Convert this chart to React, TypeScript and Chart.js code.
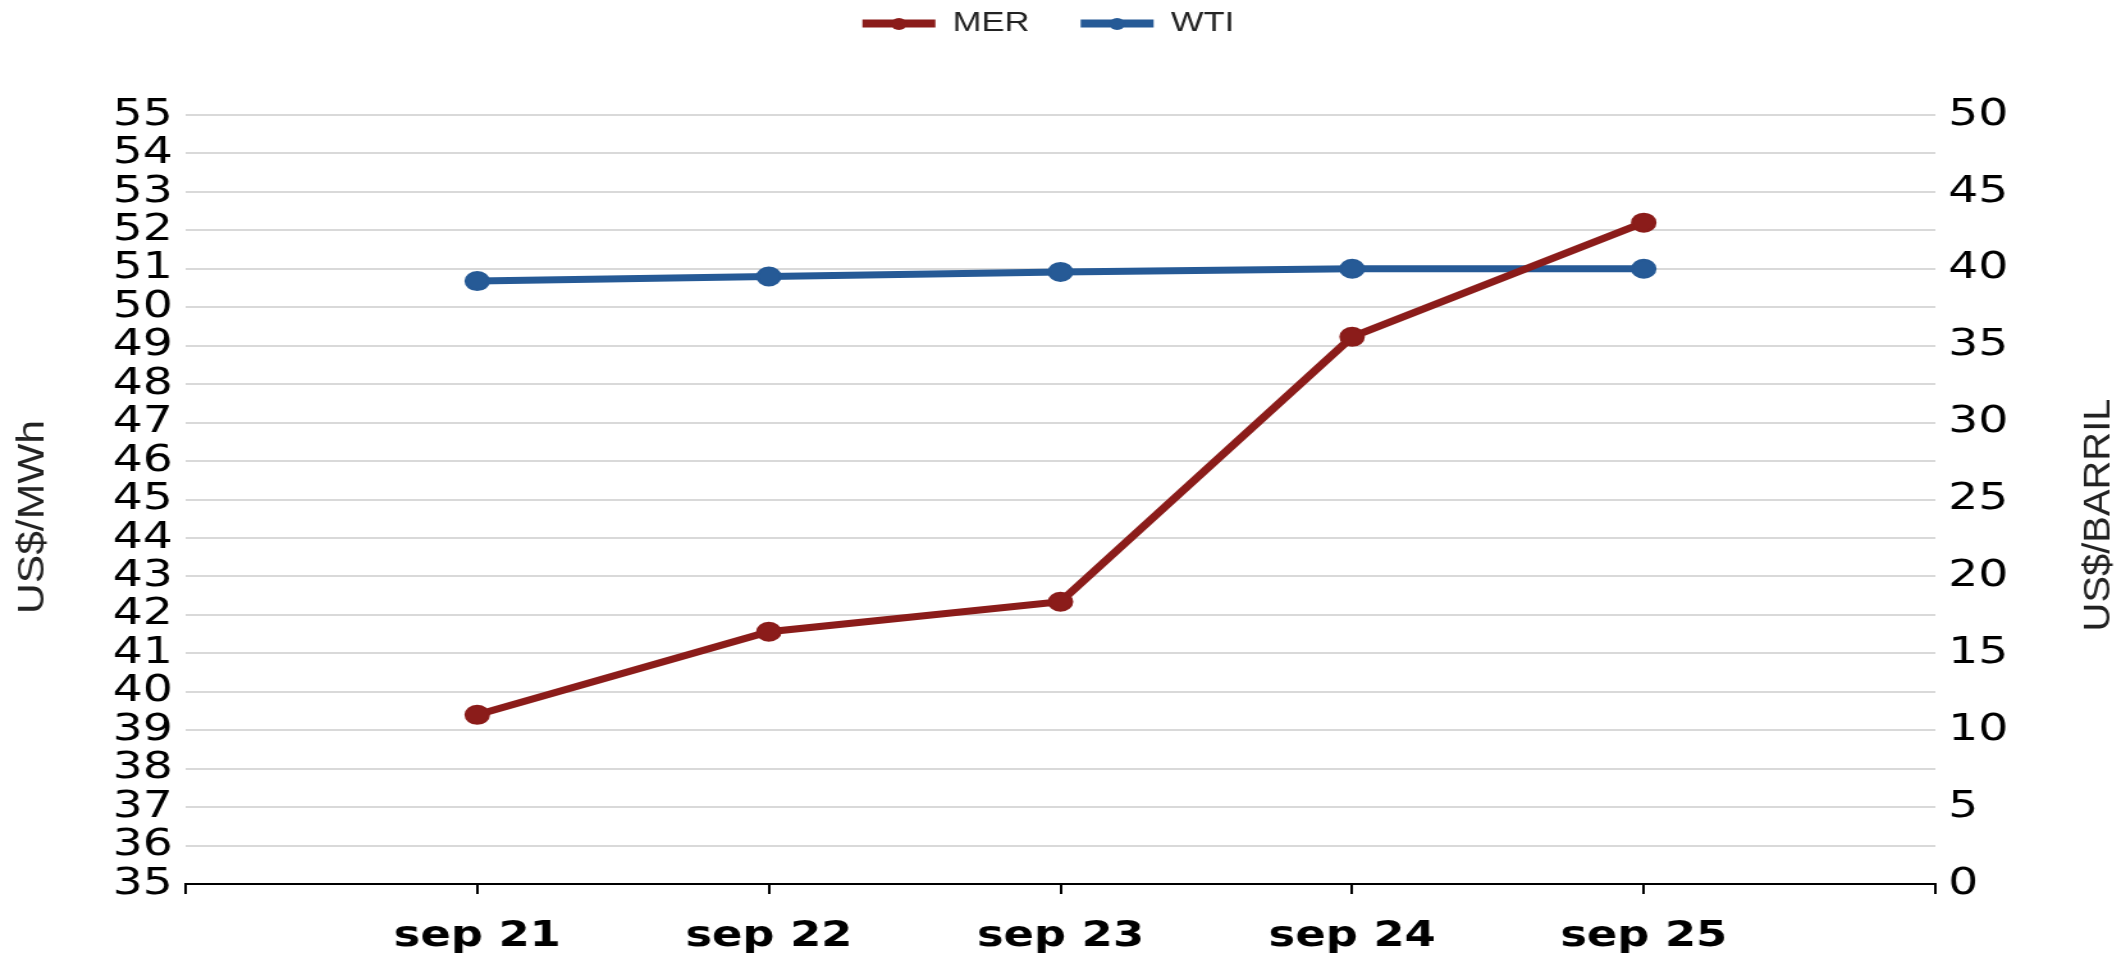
import React, { useEffect, useRef } from "react";
import { Chart, registerables } from "chart.js";

Chart.register(...registerables);

// ---- data ----
const categories = ["sep 21", "sep 22", "sep 23", "sep 24", "sep 25"];
const merValues = [39.4, 41.56, 42.34, 49.23, 52.2];
const wtiValues = [39.2, 39.5, 39.8, 40.0, 40.0];
const seriesNames = ["MER", "WTI"];
const leftTitle = "US$/MWh";
const rightTitle = "US$/BARRIL";
const leftMin = 35;
const leftMax = 55;
const leftStep = 1;
const rightMin = 0;
const rightMax = 50;
const rightStep = 5;

// ---- layout / style ----
const STRETCH = 1.28;
const CANVAS_W = 1662;
const CANVAS_H = 991;
const SHIFT_Y = 30;
const RED = "#8B1C1A";
const BLUE = "#265A96";
const LEGEND_BOX_W = 57;

const legendTweaks = {
  id: "legendTweaks",
  beforeInit(chart: any) {
    const legend = chart.legend;
    const origFit = legend.fit;
    legend.fit = function () {
      origFit.call(this);
      this.height += 68;
    };
    const origDraw = legend.draw;
    legend.draw = function () {
      const ctx = this.ctx;
      ctx.save();
      ctx.translate(-12, 0);
      origDraw.call(this);
      const items = this.legendItems || [];
      const boxes = this.legendHitBoxes || [];
      items.forEach((item: any, i: number) => {
        const hb = boxes[i];
        if (!hb) return;
        ctx.beginPath();
        ctx.fillStyle = item.fillStyle;
        ctx.arc(hb.left + LEGEND_BOX_W / 2, hb.top + hb.height / 2 + 0.5, 6, 0, Math.PI * 2);
        ctx.fill();
      });
      ctx.restore();
    };
  },
};

const axisTitles = {
  id: "axisTitles",
  afterDraw(chart: any) {
    const ctx = chart.ctx;
    const drawOne = (text: string, x: number, y: number, sx: number) => {
      ctx.save();
      ctx.translate(x, y);
      ctx.rotate(-Math.PI / 2);
      ctx.scale(sx, 1);
      ctx.fillStyle = "#222";
      ctx.font = '30px "Liberation Sans", Arial, sans-serif';
      ctx.textAlign = "center";
      ctx.textBaseline = "middle";
      ctx.fillText(text, 0, 0);
      ctx.restore();
    };
    drawOne(leftTitle, 26, 547, 1.42);
    drawOne(rightTitle, 1640, 545, 1.33);
  },
};

export default function App() {
  const ref = useRef<HTMLCanvasElement | null>(null);

  useEffect(() => {
    if (!ref.current) return;
    const labels = ["", ...categories, ""];
    const mer = [null, ...merValues, null];
    const wti = [null, ...wtiValues, null];
    const tickFont = { family: '"DejaVu Sans", sans-serif', size: 37 };
    const chart = new Chart(ref.current, {
      type: "line",
      data: {
        labels,
        datasets: [
          {
            label: seriesNames[0],
            data: mer,
            yAxisID: "y",
            borderColor: RED,
            backgroundColor: RED,
            pointBackgroundColor: RED,
            pointBorderColor: RED,
            borderWidth: 7,
            pointRadius: 9,
            pointBorderWidth: 2,
            tension: 0,
          },
          {
            label: seriesNames[1],
            data: wti,
            yAxisID: "y1",
            borderColor: BLUE,
            backgroundColor: BLUE,
            pointBackgroundColor: BLUE,
            pointBorderColor: BLUE,
            borderWidth: 7,
            pointRadius: 9,
            pointBorderWidth: 2,
            tension: 0,
          },
        ],
      },
      options: {
        responsive: false,
        animation: false,
        devicePixelRatio: 1,
        layout: { padding: 0 },
        plugins: {
          tooltip: { enabled: false },
          legend: {
            position: "top",
            labels: {
              boxWidth: LEGEND_BOX_W,
              boxHeight: 8,
              padding: 40,
              color: "#222",
              font: { family: '"Liberation Sans", Arial, sans-serif', size: 27 },
              generateLabels: (c: any) =>
                Chart.defaults.plugins.legend.labels
                  .generateLabels(c)
                  .map((l: any) => ({ ...l, lineWidth: 0 })),
            },
          },
        },
        scales: {
          x: {
            type: "category",
            offset: false,
            grid: {
              display: true,
              drawOnChartArea: false,
              drawTicks: true,
              tickLength: 10,
              color: "#000",
              lineWidth: 2,
            },
            border: { display: true, color: "#000", width: 2 },
            ticks: {
              autoSkip: false,
              maxRotation: 0,
              padding: 22,
              color: "#000",
              font: { family: '"DejaVu Sans", sans-serif', size: 35, weight: "bold" },
            },
            afterFit: (s: any) => {
              s.height = 77;
            },
          },
          y: {
            position: "left",
            min: leftMin,
            max: leftMax,
            ticks: {
              stepSize: leftStep,
              autoSkip: false,
              padding: 10,
              color: "#000",
              font: tickFont,
            },
            grid: { color: "#d9d9d9", lineWidth: 2, drawTicks: false },
            border: { display: false },
            afterFit: (s: any) => {
              s.width = 145;
            },
          },
          y1: {
            position: "right",
            min: rightMin,
            max: rightMax,
            ticks: {
              stepSize: rightStep,
              autoSkip: false,
              padding: 10,
              color: "#000",
              font: tickFont,
            },
            grid: { drawOnChartArea: false, drawTicks: false },
            border: { display: false },
            afterFit: (s: any) => {
              s.width = 150;
            },
          },
        },
      },
      plugins: [legendTweaks, axisTitles],
    } as any);
    return () => chart.destroy();
  }, []);

  return (
    <div
      style={{
        position: "absolute",
        left: 0,
        top: 0,
        width: 2128,
        height: 961,
        overflow: "hidden",
        background: "#fff",
      }}
    >
      <div
        style={{
          position: "absolute",
          left: 0,
          top: -SHIFT_Y,
          width: CANVAS_W,
          height: CANVAS_H,
          transform: `scaleX(${STRETCH})`,
          transformOrigin: "0 0",
        }}
      >
        <canvas
          ref={ref}
          width={CANVAS_W}
          height={CANVAS_H}
          style={{ width: CANVAS_W, height: CANVAS_H, display: "block" }}
        />
      </div>
    </div>
  );
}
